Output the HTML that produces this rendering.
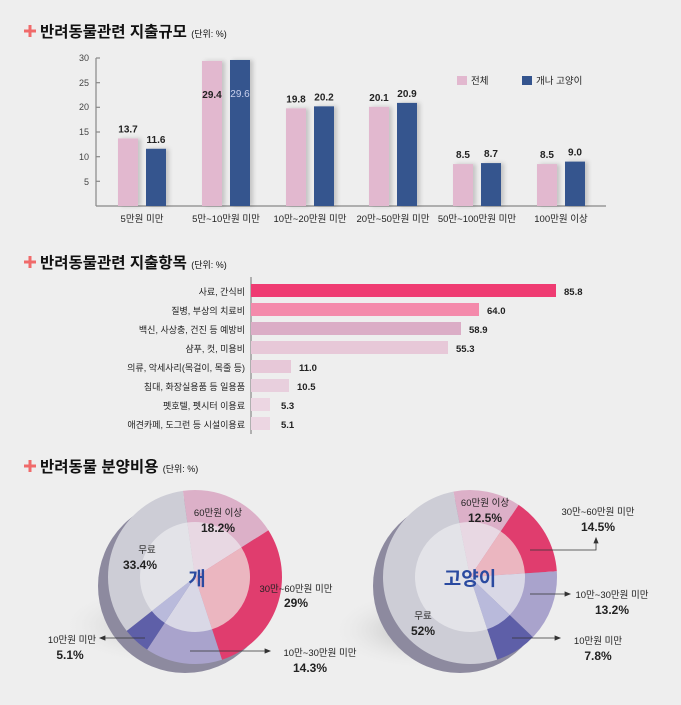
<!DOCTYPE html>
<html><head><meta charset="utf-8"><style>
html,body{margin:0;padding:0;background:#eeeeee;}
svg{display:block;font-family:"Liberation Sans","Noto Sans CJK KR",sans-serif;}
</style></head><body>
<svg id="s" width="681" height="705" viewBox="0 0 681 705" xmlns="http://www.w3.org/2000/svg">
<defs>
<radialGradient id="sh" cx="0.5" cy="0.5" r="0.5"><stop offset="0" stop-color="#b5b5b5"/><stop offset="1" stop-color="#eeeeee" stop-opacity="0"/></radialGradient>
<filter id="bs" x="-20%" y="-20%" width="150%" height="130%"><feDropShadow dx="3" dy="0" stdDeviation="2" flood-color="#000" flood-opacity="0.18"/></filter>
</defs>
<rect width="681" height="705" fill="#eeeeee"/>
<g fill="#f06a6a">
<g transform="translate(30,31)"><rect x="-1.5" y="-6" width="3" height="12"/><rect x="-6" y="-1.5" width="12" height="3"/></g>
<g transform="translate(30,262)"><rect x="-1.5" y="-6" width="3" height="12"/><rect x="-6" y="-1.5" width="12" height="3"/></g>
<g transform="translate(30,466)"><rect x="-1.5" y="-6" width="3" height="12"/><rect x="-6" y="-1.5" width="12" height="3"/></g>
</g>
<g font-weight="bold" fill="#111">
<text x="40" y="37" font-size="15.5">반려동물관련 지출규모 <tspan font-size="9" font-weight="normal">(단위: %)</tspan></text>
<text x="40" y="268" font-size="15.5">반려동물관련 지출항목 <tspan font-size="9" font-weight="normal">(단위: %)</tspan></text>
<text x="40" y="472" font-size="15.5">반려동물 분양비용 <tspan font-size="9" font-weight="normal">(단위: %)</tspan></text>
</g>
<g stroke="#888" stroke-width="1.2" fill="none">
<line x1="96" y1="58" x2="96" y2="206"/><line x1="96" y1="206" x2="606" y2="206"/>
<line x1="96" y1="58" x2="100" y2="58"/><line x1="96" y1="82.7" x2="100" y2="82.7"/><line x1="96" y1="107.3" x2="100" y2="107.3"/><line x1="96" y1="132" x2="100" y2="132"/><line x1="96" y1="156.7" x2="100" y2="156.7"/><line x1="96" y1="181.3" x2="100" y2="181.3"/>
</g>
<g font-size="9" fill="#444" text-anchor="end">
<text x="89" y="61">30</text><text x="89" y="86">25</text><text x="89" y="110">20</text><text x="89" y="135">15</text><text x="89" y="160">10</text><text x="89" y="185">5</text>
</g>
<g id="bars1" filter="url(#bs)"></g>
<g font-size="10" fill="#222" text-anchor="middle" font-weight="bold" id="vals1"></g>
<g font-size="9.5" fill="#222" text-anchor="middle">
<text x="142" y="222">5만원 미만</text><text x="226" y="222">5만~10만원 미만</text><text x="310" y="222">10만~20만원 미만</text><text x="393" y="222">20만~50만원 미만</text><text x="477" y="222">50만~100만원 미만</text><text x="561" y="222">100만원 이상</text>
</g>
<rect x="457" y="76" width="10" height="9" fill="#e2b8cf"/><text x="471" y="84" font-size="9.5" fill="#222">전체</text>
<rect x="522" y="76" width="10" height="9" fill="#34548e"/><text x="536" y="84" font-size="9.5" fill="#222">개나 고양이</text>
<line x1="251" y1="277" x2="251" y2="434" stroke="#888" stroke-width="1.2"/>
<g id="bars2"></g>
<g font-size="9" fill="#222" text-anchor="end">
<text x="245" y="295">사료, 간식비</text><text x="245" y="314">질병, 부상의 치료비</text><text x="245" y="333">백신, 사상충, 건진 등 예방비</text><text x="245" y="352">샴푸, 컷, 미용비</text><text x="245" y="371">의류, 악세사리(목걸이, 목줄 등)</text><text x="245" y="390">침대, 화장실용품 등 일용품</text><text x="245" y="409">펫호텔, 펫시터 이용료</text><text x="245" y="428">애견카페, 도그런 등 시설이용료</text>
</g>
<g font-size="9.5" fill="#222" font-weight="bold">
<text x="564" y="295">85.8</text><text x="487" y="314">64.0</text><text x="469" y="333">58.9</text><text x="456" y="352">55.3</text><text x="299" y="371">11.0</text><text x="297" y="390">10.5</text><text x="281" y="409">5.3</text><text x="281" y="428">5.1</text>
</g>
<ellipse cx="160" cy="625" rx="100" ry="40" fill="url(#sh)"/>
<ellipse cx="420" cy="630" rx="90" ry="40" fill="url(#sh)"/>
<circle cx="185" cy="586" r="87" fill="#8d8a9f"/>
<circle cx="460" cy="586" r="87" fill="#8d8a9f"/>
<g id="pies"></g>
<g font-size="9.5" fill="#222" text-anchor="middle">
<text x="218" y="516">60만원 이상</text><text x="218" y="532" font-size="12" font-weight="bold">18.2%</text>
<text x="147" y="553">무료</text><text x="140" y="569" font-size="12" font-weight="bold">33.4%</text>
<text x="296" y="592">30만~60만원 미만</text><text x="296" y="607" font-size="12" font-weight="bold">29%</text>
<text x="72" y="643">10만원 미만</text><text x="70" y="659" font-size="12" font-weight="bold">5.1%</text>
<text x="320" y="656">10만~30만원 미만</text><text x="310" y="672" font-size="12" font-weight="bold">14.3%</text>
<text x="485" y="506">60만원 이상</text><text x="485" y="522" font-size="12" font-weight="bold">12.5%</text>
<text x="598" y="515">30만~60만원 미만</text><text x="598" y="531" font-size="12" font-weight="bold">14.5%</text>
<text x="612" y="598">10만~30만원 미만</text><text x="612" y="614" font-size="12" font-weight="bold">13.2%</text>
<text x="598" y="644">10만원 미만</text><text x="598" y="660" font-size="12" font-weight="bold">7.8%</text>
<text x="423" y="619">무료</text><text x="423" y="635" font-size="12" font-weight="bold">52%</text>
</g>
<text x="197" y="585" font-size="19" font-weight="bold" fill="#2a4aa0" text-anchor="middle">개</text>
<text x="470" y="585" font-size="19" font-weight="bold" fill="#2a4aa0" text-anchor="middle">고양이</text>
<g stroke="#333" stroke-width="0.8" fill="#333">
<line x1="145" y1="638" x2="102" y2="638"/><path d="M100 638 l5 -2 v4z"/>
<line x1="190" y1="651" x2="268" y2="651"/><path d="M270 651 l-5 -2 v4z"/>
<polyline points="530,550 596,550 596,540" fill="none"/><path d="M596 538 l-2 5 h4z"/>
<line x1="530" y1="594" x2="568" y2="594"/><path d="M570 594 l-5 -2 v4z"/>
<line x1="512" y1="638" x2="558" y2="638"/><path d="M560 638 l-5 -2 v4z"/>
</g>
</svg>
<script>
var NS="http://www.w3.org/2000/svg";
function el(p,t,a){var e=document.createElementNS(NS,t);for(var k in a)e.setAttribute(k,a[k]);p.appendChild(e);return e;}
var b1=document.getElementById("bars1"),v1=document.getElementById("vals1");
var d1=[[13.7,11.6],[29.4,29.6],[19.8,20.2],[20.1,20.9],[8.5,8.7],[8.5,9.0]];
var xs=[118,202,286,369,453,537];
d1.forEach(function(d,i){
 [0,1].forEach(function(j){
  var h=d[j]*4.933,x=xs[i]+j*28;
  el(b1,"rect",{x:x,y:206-h,width:20,height:h,fill:j?"#34548e":"#e2b8cf"});
  var t=el(v1,"text",{x:x+10,y:(i==1?206-h+37:206-h-6)});
  if(i==1&&j==1)t.setAttribute("fill","#c8d0ee"),t.setAttribute("font-weight","normal");
  t.textContent=d[j].toFixed(1);
 });
});
var b2=document.getElementById("bars2");
var ends=[556,479,461,448,291,289,270,270],cols=["#ef3b72","#f48aab","#dbadc6","#e7c8d8","#e7c8d8","#e8cfdd","#ecd6e2","#ecd6e2"];
ends.forEach(function(e,i){el(b2,"rect",{x:251,y:284+i*19,width:e-251,height:13,fill:cols[i]});});
var pg=document.getElementById("pies");
function arc(cx,cy,r,a0,a1,c){
 var r0=(a0-90)*Math.PI/180,r1=(a1-90)*Math.PI/180;
 var d="M"+cx+" "+cy+" L"+(cx+r*Math.cos(r0))+" "+(cy+r*Math.sin(r0))+" A"+r+" "+r+" 0 "+((a1-a0)>180?1:0)+" 1 "+(cx+r*Math.cos(r1))+" "+(cy+r*Math.sin(r1))+"Z";
 el(pg,"path",{d:d,fill:c});
}
function pie(cx,cy,start,vals,outer,inner){
 var a=start;vals.forEach(function(v,i){var a1=a+v*3.6;arc(cx,cy,87,a,a1,outer[i]);a=a1;});
 a=start;vals.forEach(function(v,i){var a1=a+v*3.6;arc(cx,cy,55,a,a1,inner[i]);a=a1;});
}
var O=["#dcb0c8","#e03d6e","#a9a3cc","#5e5fa8","#cdcdd6"],I=["#e8d8e3","#ebb6c0","#d9d8e6","#b9badb","#e3e3e8"];
pie(195,577,-8,[18.2,29,14.3,5.1,33.4],O,I);
pie(470,577,-11,[12.5,14.5,13.2,7.8,52],O,I);
</script>
</body></html>
